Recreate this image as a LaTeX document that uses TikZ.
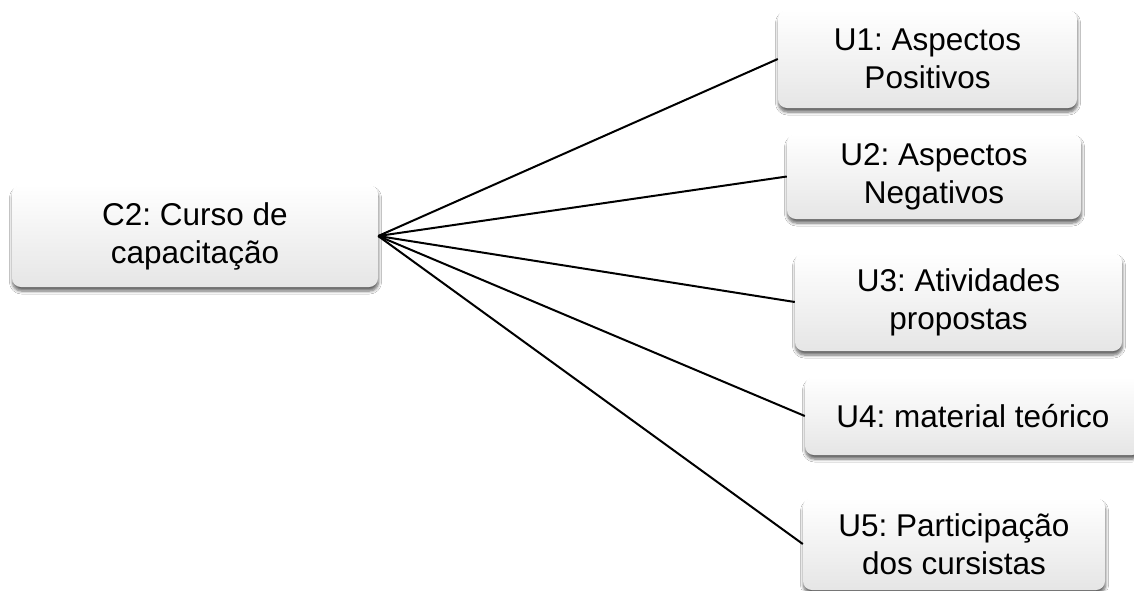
\documentclass[tikz,border=0pt]{standalone}
\usepackage{fontspec}
\setmainfont{Liberation Sans}
\usetikzlibrary{shadows.blur}
\frenchspacing
\begin{document}
\begin{tikzpicture}[x=1pt,y=-1pt,
  card/.style={rectangle, rounded corners=9pt, align=center,
    top color=white, bottom color=black!10, draw=none,
    font=\fontsize{31.5}{38}\selectfont, inner sep=0pt,
    blur shadow={shadow xshift=0.5pt, shadow yshift=-4pt, shadow blur steps=6,
      shadow blur radius=3pt, shadow opacity=60}},
  link/.style={line width=2pt, black}]
\useasboundingbox (0,0) rectangle (1134,590);
\fill[white] (0,0) rectangle (1134,590);

\node[card, minimum width=366pt, minimum height=102pt] (c2) at (195,236)
  {C2: Curso de\\capacitação};
\node[card, minimum width=299pt, minimum height=98pt] (u1) at (927.5,59)
  {U1: Aspectos\\Positivos};
\node[card, minimum width=294pt, minimum height=85pt] (u2) at (934,176.5)
  {U2: Aspectos\\Negativos};
\node[card, minimum width=327pt, minimum height=98pt] (u3) at (958.5,302)
  {U3: Atividades\\propostas};
\node[card, minimum width=336pt, minimum height=78pt] (u4) at (973,416)
  {U4: material teórico};
\node[card, minimum width=302pt, minimum height=92pt] (u5) at (954,544)
  {U5: Participação\\dos cursistas};

\coordinate (hub) at (c2.east);
\foreach \n in {u1,u2,u3,u4,u5}
  \draw[link] (hub) -- (\n.west);
\end{tikzpicture}
\end{document}
